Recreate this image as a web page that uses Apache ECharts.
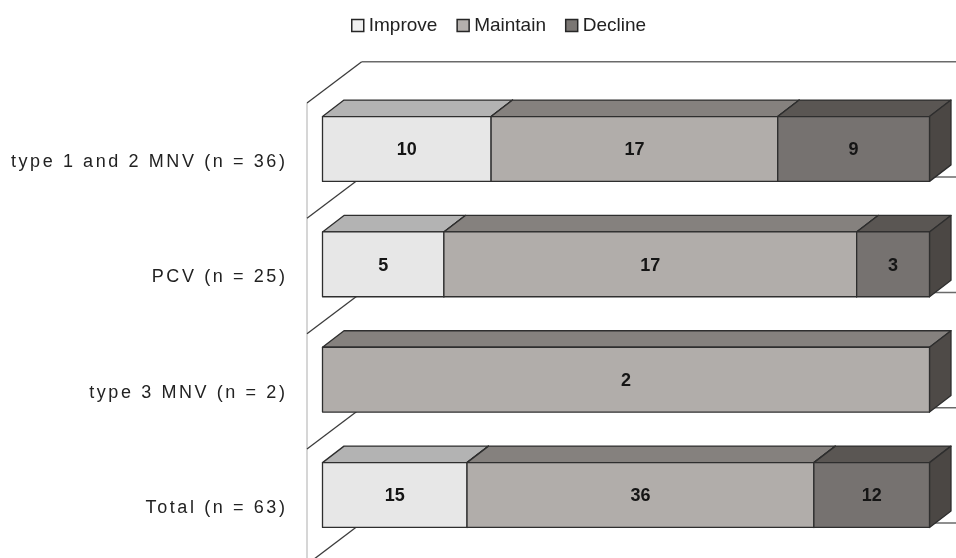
<!DOCTYPE html>
<html>
<head>
<meta charset="utf-8">
<script src="https://cdn.jsdelivr.net/npm/echarts@6/dist/echarts.min.js"></script>
<style>
  html, body { margin: 0; padding: 0; background: #fff; }
  #chart { width: 956px; height: 558px; }
</style>
</head>
<body>
<div id="chart"></div>
<script>
// Outcome counts per lesion group
const categories = ['type 1 and 2 MNV (n = 36)', 'PCV (n = 25)', 'type 3 MNV (n = 2)', 'Total (n = 63)'];
const improve = [10, 5, 0, 15];
const maintain = [17, 17, 2, 36];
const decline = [9, 3, 0, 12];
const seriesNames = ['Improve', 'Maintain', 'Decline'];

// Face colours of each box: front, top, side
const palette = {
  Improve:  { front: '#e7e7e7', top: '#b3b3b3', side: '#8c8c8c', legend: '#f0f0f0' },
  Maintain: { front: '#b1adaa', top: '#85817e', side: '#4e4a47', legend: '#b4b0ad' },
  Decline:  { front: '#767270', top: '#5a5653', side: '#4b4744', legend: '#7a7673' }
};

const FONT = '"Liberation Sans", Arial, Helvetica, sans-serif';

// Category labels are set with wide tracking; all other text uses normal tracking
const spacedLabels = new Set(categories);
const baseFillText = CanvasRenderingContext2D.prototype.fillText;
CanvasRenderingContext2D.prototype.fillText = function (text, x, y, maxWidth) {
  this.letterSpacing = spacedLabels.has(text) ? '2.6px' : '0px';
  return maxWidth === undefined
    ? baseFillText.call(this, text, x, y)
    : baseFillText.call(this, text, x, y, maxWidth);
};

// Stacked 100% segments: [categoryIndex, startPct, endPct, count]
const counts = [improve, maintain, decline];
const totals = categories.map((_, i) => improve[i] + maintain[i] + decline[i]);
const segments = seriesNames.map(() => []);
categories.forEach((_, i) => {
  let acc = 0;
  counts.forEach((arr, s) => {
    const v = arr[i];
    const start = acc / totals[i] * 100;
    acc += v;
    const end = acc / totals[i] * 100;
    if (v > 0) segments[s].push([i, start, end, v]);
  });
});

// Oblique projection of the box depth
const BAR_DEPTH = [21.5, -16.5];
const WALL_FRONT = [-15.5, 11.7];
const WALL_BACK = [39.2, -29.6];
const FACE_RATIO = 0.562;
const EDGE = { stroke: '#2e2e2e', lineWidth: 1.3, lineJoin: 'round' };

function renderBox(name) {
  const c = palette[name];
  return function (params, api) {
    const cat = api.value(0);
    const p0 = api.coord([api.value(1), cat]);
    const p1 = api.coord([api.value(2), cat]);
    const band = api.size([0, 1])[1];
    const h = band * FACE_RATIO;
    const top = p0[1] - h / 2, bot = p0[1] + h / 2;
    const x0 = p0[0], x1 = p1[0];
    const dx = BAR_DEPTH[0], dy = BAR_DEPTH[1];
    return {
      type: 'group',
      children: [
        { type: 'polygon', shape: { points: [[x0, top], [x1, top], [x1 + dx, top + dy], [x0 + dx, top + dy]] },
          style: Object.assign({ fill: c.top }, EDGE) },
        { type: 'polygon', shape: { points: [[x1, top], [x1 + dx, top + dy], [x1 + dx, bot + dy], [x1, bot]] },
          style: Object.assign({ fill: c.side }, EDGE) },
        { type: 'rect', shape: { x: x0, y: top, width: x1 - x0, height: h },
          style: Object.assign({ fill: c.front }, EDGE) },
        { type: 'text',
          style: { text: String(api.value(3)), x: (x0 + x1) / 2, y: p0[1] + 1.5,
                   align: 'center', verticalAlign: 'middle', textAlign: 'center', textVerticalAlign: 'middle',
                   font: 'bold 18px ' + FONT, fill: '#151515' } }
      ]
    };
  };
}

function renderWalls(params, api) {
  const n = categories.length;
  const band = api.size([0, 1])[1];
  const xZero = api.coord([0, 0])[0];
  const W = api.getWidth(), H = api.getHeight();
  const bounds = [];
  for (let k = 0; k <= n; k++) {
    const idx = Math.min(k, n - 1);
    bounds.push(api.coord([0, idx])[1] + (k < n ? -band / 2 : band / 2));
  }
  const fx = xZero + WALL_FRONT[0], bx = xZero + WALL_BACK[0];
  const children = [
    { type: 'line', shape: { x1: fx, y1: bounds[0] + WALL_FRONT[1], x2: fx, y2: H },
      style: { stroke: '#d6d6d6', lineWidth: 2 } }
  ];
  bounds.forEach((y) => {
    children.push({ type: 'line', shape: { x1: fx, y1: y + WALL_FRONT[1], x2: bx, y2: y + WALL_BACK[1] },
      style: { stroke: '#3c3c3c', lineWidth: 1.3 } });
    children.push({ type: 'line', shape: { x1: bx, y1: y + WALL_BACK[1], x2: W, y2: y + WALL_BACK[1] },
      style: { stroke: '#6a6a6a', lineWidth: 1.5 } });
  });
  return { type: 'group', children: children };
}

const chart = echarts.init(document.getElementById('chart'), null, { renderer: 'canvas' });
chart.setOption({
  animation: false,
  backgroundColor: '#ffffff',
  legend: {
    left: 346,
    top: 11,
    itemWidth: 12,
    itemHeight: 12,
    itemGap: 19,
    textStyle: { fontSize: 19, color: '#222', fontFamily: FONT },
    data: seriesNames.map((n) => ({
      name: n, icon: 'rect',
      itemStyle: { color: palette[n].legend, borderColor: '#262626', borderWidth: 1.5 }
    }))
  },
  grid: { left: 322.5, right: 26.5, top: 91.3, bottom: 5.3 },
  xAxis: { type: 'value', min: 0, max: 100, show: false },
  yAxis: {
    type: 'category',
    inverse: true,
    data: categories,
    axisLine: { show: false },
    axisTick: { show: false },
    splitLine: { show: false },
    axisLabel: {
      margin: 35,
      fontSize: 18,
      fontFamily: FONT,
      color: '#222',
      verticalAlign: 'top',
      lineHeight: 26
    }
  },
  series: [
    {
      type: 'custom', name: 'walls', clip: false, silent: true, z: 1,
      renderItem: renderWalls,
      encode: { x: 0, y: 1 },
      data: [[0, 0]]
    }
  ].concat(seriesNames.map((name, s) => ({
    type: 'custom',
    name: name,
    clip: false,
    z: 2,
    itemStyle: { color: palette[name].legend },
    renderItem: renderBox(name),
    encode: { x: [1, 2], y: 0 },
    data: segments[s]
  })))
});
</script>
</body>
</html>
